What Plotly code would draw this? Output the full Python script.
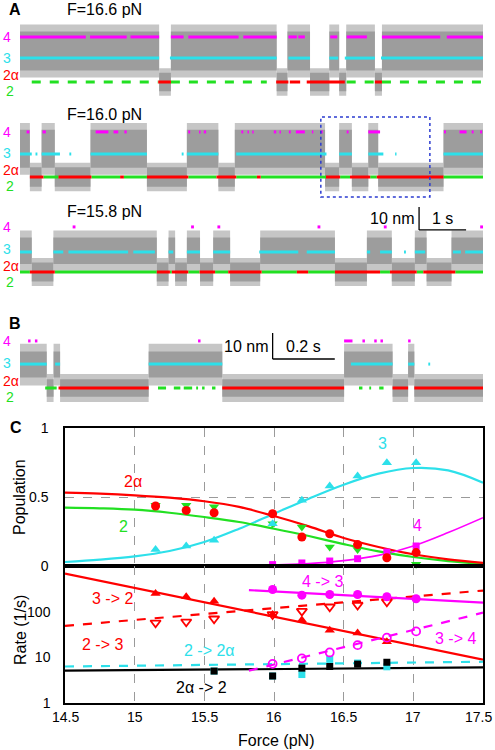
import plotly.graph_objects as go

W, H = 495, 750
FONT = "Arial, Liberation Sans, sans-serif"
MAG, CYA, RED, GRN = "#ff00ff", "#2de0ea", "#ff0000", "#22e022"
GRY_CORE, GRY_EDGE = "#9d9d9d", "#c6c6c6"

# ---------------- Panel A / B : state assignments (time intervals, s) ----------------
T_A = 9.85
T_B = 1.49

a1_high = [(0.00, 2.96), (3.21, 5.46), (5.69, 6.17), (6.58, 6.79), (6.94, 7.55), (7.70, 9.85)]
a1_s4 = [(0.00, 1.40), (1.49, 2.27), (2.35, 2.96), (3.21, 3.48), (3.58, 4.65), (4.75, 5.46),
         (5.71, 5.89), (5.92, 6.06), (6.60, 6.75), (6.95, 7.38), (7.70, 8.94), (9.08, 9.85)]
a1_s3 = [(0.00, 2.96), (3.19, 5.46), (5.71, 6.17), (6.58, 6.77), (6.91, 7.55), (7.68, 9.85)]
a1_s2 = [(0.25, 2.94), (3.21, 5.25), (6.95, 7.55), (7.70, 9.85)]
a1_s2a = [(2.94, 3.21), (5.45, 5.71), (5.74, 5.96), (6.10, 6.91), (7.55, 7.70)]
a1_levels = [0.0, 10.4, 19.6]   # nm: states 2/2a, 3, 4

a2_high = [(0.00, 0.21), (0.46, 0.74), (1.50, 2.70), (3.55, 4.22), (4.57, 6.49), (6.79, 7.06),
           (7.41, 7.62), (9.01, 9.85)]
a2_s4 = [(0.14, 0.20), (0.48, 0.55), (1.61, 1.88), (1.99, 2.09), (2.22, 2.27), (3.58, 3.62),
         (3.81, 3.84), (3.91, 3.96), (4.71, 4.75), (4.84, 4.87), (4.94, 4.97), (5.40, 5.45),
         (5.52, 5.55), (5.72, 5.76), (5.87, 6.06), (6.21, 6.24), (6.40, 6.44), (6.95, 6.99),
         (7.41, 7.66), (9.02, 9.06), (9.35, 9.50), (9.61, 9.65), (9.79, 9.83)]
a2_s3 = [(0.00, 0.25), (0.33, 0.37), (0.46, 0.85), (1.05, 1.09), (1.50, 2.70), (3.44, 3.48),
         (3.55, 4.22), (4.60, 6.52), (6.79, 7.06), (7.41, 7.73), (7.98, 8.01), (9.01, 9.85)]
a2_s2a = [(0.21, 0.50), (0.82, 1.52), (2.13, 2.21), (2.70, 3.58), (4.18, 4.60), (5.04, 5.12),
          (6.51, 6.81), (7.02, 7.45), (7.59, 9.01)]
a2_s2 = [(0.50, 0.82), (1.52, 2.13), (2.21, 2.70), (3.58, 4.18), (4.60, 5.04), (5.12, 6.51),
         (6.81, 7.02), (7.45, 7.59), (9.01, 9.85)]
a2_levels = [0.0, 10.0, 19.6]

a3_high = [(0.00, 0.25), (0.71, 2.91), (3.16, 3.30), (3.55, 3.83), (4.11, 4.47), (5.11, 6.70),
           (7.38, 7.91), (8.40, 8.65), (9.18, 9.85)]
a3_s4 = [(1.12, 1.18), (3.64, 3.70), (4.20, 4.26), (6.33, 6.39), (7.74, 7.80), (9.79, 9.85)]
a3_s3 = [(0.00, 0.25), (0.71, 0.92), (1.03, 2.30), (2.41, 2.87), (3.16, 3.26), (3.55, 3.83),
         (4.11, 4.47), (5.09, 5.92), (6.10, 6.70), (7.38, 7.45), (7.66, 7.91), (8.17, 8.21),
         (8.40, 8.62), (9.21, 9.38), (9.47, 9.85)]
a3_s2a = [(0.21, 0.74), (2.91, 3.19), (3.23, 3.58), (3.82, 4.15), (4.43, 5.14), (5.89, 6.13),
          (6.70, 7.66), (7.87, 8.44), (8.58, 9.26)]
a3_s2 = [(0.00, 0.21), (0.74, 2.91), (3.19, 3.23), (3.58, 3.82), (4.15, 4.43), (5.14, 5.89),
         (6.13, 6.70), (7.66, 7.87), (8.44, 8.58), (9.26, 9.85)]
a3_levels = [0.0, 8.7, 19.6]

b_high = [(0.000, 0.086), (0.108, 0.129), (0.414, 0.651), (1.043, 1.199), (1.249, 1.269)]
b_s4 = [(0.026, 0.034), (0.048, 0.056), (0.573, 0.581), (1.043, 1.070), (1.102, 1.110),
        (1.140, 1.148), (1.160, 1.168), (1.249, 1.257)]
b_s3 = [(0.000, 0.086), (0.113, 0.129), (0.414, 0.651), (1.065, 1.199), (1.249, 1.269), (1.314, 1.320)]
b_s2 = [(0.081, 0.118), (0.444, 0.470), (0.495, 0.516), (0.527, 0.554), (0.567, 0.573),
        (0.586, 0.594), (0.618, 0.629), (1.091, 1.102), (1.124, 1.130), (1.156, 1.170)]
b_s2a = [(0.124, 0.414), (0.651, 1.043), (1.199, 1.249), (1.269, 1.49)]
b_levels = [0.0, 9.2, 18.1]

trace_titles = ["F=16.6 pN", "F=16.0 pN", "F=15.8 pN"]

# ---------------- Panel C : populations ----------------
force_pts = [15.15, 15.37, 15.57, 15.99, 16.20, 16.40, 16.60, 16.81, 17.02]
pop_2a = [0.435, 0.403, 0.386, 0.379, 0.210, 0.234, 0.155, 0.060, 0.097]
pop_2 = [0.44, 0.44, 0.43, 0.307, 0.283, 0.138, 0.120, 0.090, 0.012]
pop_3 = [0.120, 0.145, 0.186, 0.307, 0.476, 0.580, 0.652, 0.749, 0.749]
force_pts4 = [15.99, 16.20, 16.40, 16.60, 16.81, 17.02]
pop_4 = [0.010, 0.022, 0.036, 0.053, 0.101, 0.145]

fit_force = [14.5, 14.75, 15.0, 15.25, 15.5, 15.75, 16.0, 16.25, 16.5, 16.75, 17.0, 17.25, 17.5]
fit_2a = [0.531, 0.524, 0.512, 0.495, 0.469, 0.428, 0.362, 0.287, 0.203, 0.138, 0.085, 0.048, 0.022]
fit_2 = [0.423, 0.418, 0.408, 0.386, 0.355, 0.319, 0.270, 0.217, 0.159, 0.106, 0.065, 0.036, 0.017]
fit_3 = [0.029, 0.046, 0.070, 0.109, 0.174, 0.270, 0.379, 0.488, 0.589, 0.669, 0.710, 0.693, 0.604]
fit4_force = [15.82, 16.0, 16.25, 16.5, 16.75, 17.0, 17.25, 17.5]
fit_4 = [0.0, 0.007, 0.017, 0.039, 0.077, 0.145, 0.242, 0.350]

# ---------------- Panel C : rates (1/s) ----------------
k32 = [251, 213, 170, 87, 66, 39, 34, 22]          # 3 -> 2 at force_pts[:8]
k23 = [57, 60, 70, 87, 103, 128, 140, 165]         # 2 -> 3 at force_pts[:8]
k43 = [306, 230, 238, 238, 212, 192]               # 4 -> 3 at force_pts4
k34 = [7.2, 9.5, 12.8, 18.5, 27, 37]               # 3 -> 4 at force_pts4
force_sq = [15.57, 15.99, 16.20, 16.40, 16.60, 16.81]
k22a = [5.0, 3.9, 4.2, 9.0, 7.5, 6.2]              # 2 -> 2a
k2a2 = [5.0, 3.9, 5.8, 6.3, 7.1, 7.8]              # 2a -> 2

line_force = [14.5, 17.5]
fit_k32 = [680, 8.9]
fit_k23 = [49, 290]
fit_k22a = [6.3, 8.0]
fit_k2a2 = [5.1, 6.0]
line_force4 = [15.82, 17.5]
fit_k43 = [296, 157]
fit_k34 = [5.1, 95]

force_ticks = [14.5, 15, 15.5, 16, 16.5, 17, 17.5]
force_tick_text = ["14.5", "15", "15.5", "16", "16.5", "17", "17.5"]

# ---------------- layout helpers (pixel geometry) ----------------
def ydom(top, bot):
    return [1 - bot / H, 1 - top / H]

XT = [20 / W, 483 / W]
XC = [65 / W, 483 / W]

fig = go.Figure()

def segs(intervals, level):
    xs, ys = [], []
    for a, b in intervals:
        xs += [a, b, None]
        ys += [level, level, None]
    return xs, ys

def complement(intervals, T):
    out, t = [], 0.0
    for a, b in sorted(intervals):
        if a > t:
            out.append((t, a))
        t = max(t, b)
    if t < T:
        out.append((t, T))
    return out

def band(intervals, lo, hi):
    xs, ys = [], []
    for a, b in intervals:
        xs += [a, b, b, a, a, None]
        ys += [lo, lo, hi, hi, lo, None]
    return xs, ys

panels = [
    dict(ax="1", T=T_A, high=a1_high, s4=a1_s4, s3=a1_s3, s2=a1_s2, s2a=a1_s2a, lev=a1_levels,
         hb=(5.0, 22.0), lb=4.0, g2dash="dash", px=(20, 100, 82), s=2.3, lsh=(0, 0, 7, -9)),
    dict(ax="2", T=T_A, high=a2_high, s4=a2_s4, s3=a2_s3, s2=a2_s2, s2a=a2_s2a, lev=a2_levels,
         hb=(4.0, 20.5), lb=4.2, g2dash="solid", px=(112, 200, 177), s=2.3, lsh=(0, 1, 7, -9)),
    dict(ax="3", T=T_A, high=a3_high, s4=a3_s4, s3=a3_s3, s2=a3_s2, s2a=a3_s2a, lev=a3_levels,
         hb=(3.5, 15.0), lb=4.1, g2dash="solid", px=(205, 290, 272), s=2.3, lsh=(0, 3, 6, -10)),
    dict(ax="4", T=T_B, high=b_high, s4=b_s4, s3=b_s3, s2=b_s2, s2a=b_s2a, lev=b_levels,
         hb=(4.0, 14.0), lb=3.4, g2dash="solid", px=(320, 405, 388), s=2.6, lsh=(0, 1, 7, -9)),
]

annotations = []
shapes = []
layout_axes = {}

for p in panels:
    ax = p["ax"]
    xr, yr = "x" + ax, "y" + ax
    top, bot, l2 = p["px"]
    y0 = -(bot - l2) / p["s"]
    y1 = y0 + (bot - top) / p["s"]
    layout_axes["xaxis" + ax] = dict(domain=XT, range=[0, p["T"]], visible=False,
                                     anchor=yr, fixedrange=True, automargin=False)
    layout_axes["yaxis" + ax] = dict(domain=ydom(top, bot), range=[y0, y1], visible=False,
                                     anchor=xr, fixedrange=True, automargin=False)
    low = complement(p["high"], p["T"])
    hb0, hb1 = p["hb"]
    lb = p["lb"]
    layers = [
        (band(p["high"], hb0 - 3.0, hb1 + 3.0), GRY_EDGE),
        (band(low, -lb - 2.0, lb + 2.0), GRY_EDGE),
        (band(p["high"], hb0, hb1), GRY_CORE),
        (band(low, -lb, lb), GRY_CORE),
    ]
    for (xs, ys), col in layers:
        fig.add_trace(go.Scatter(x=xs, y=ys, xaxis=xr, yaxis=yr, mode="lines", fill="toself",
                                 fillcolor=col, line=dict(width=0, color=col),
                                 hoverinfo="skip", showlegend=False))
    L2, L3, L4 = p["lev"]
    for iv, lev, col, dash in [(p["s3"], L3, CYA, "solid"), (p["s2"], L2, GRN, p["g2dash"]),
                               (p["s2a"], L2, RED, "solid"), (p["s4"], L4, MAG, "solid")]:
        xs, ys = segs(iv, lev)
        fig.add_trace(go.Scatter(x=xs, y=ys, xaxis=xr, yaxis=yr, mode="lines",
                                 line=dict(color=col, width=3, dash=dash),
                                 hoverinfo="skip", showlegend=False))
    # state labels
    sh4, sh3, sh2a, sh2 = p["lsh"]
    for txt, lev, col, xs_px, ysh in [("4", L4, MAG, 2, sh4), ("3", L3, CYA, 2, sh3),
                                      ("2α", L2, RED, 2, sh2a), ("2", L2, GRN, 5, sh2)]:
        annotations.append(dict(text=txt, x=xs_px / W, xref="paper", y=lev, yref=yr,
                                xanchor="left", yanchor="middle", yshift=ysh, showarrow=False,
                                borderpad=0, font=dict(size=14, color=col)))

# titles of A traces
for txt, ypx in zip(trace_titles, [9, 115, 212]):
    annotations.append(dict(text=txt, x=65 / W, y=1 - ypx / H, xref="paper", yref="paper",
                            xanchor="left", yanchor="middle", showarrow=False,
                            font=dict(size=16, color="black")))
for txt, xpx, ypx in [("A", 7, 9), ("B", 7, 323), ("C", 8, 427)]:
    annotations.append(dict(text="<b>%s</b>" % txt, x=xpx / W, y=1 - ypx / H, xref="paper",
                            yref="paper", xanchor="left", yanchor="middle", showarrow=False,
                            font=dict(size=16, color="black")))

# scale bars
bar_A = dict(nm=10, s=1.0, t0=8.49, y0=18.3)
bar_B = dict(nm=10, s=0.2, t0=0.813, y0=11.15)
for bar, xr, yr, lab in [(bar_A, "x3", "y3", "1 s"), (bar_B, "x4", "y4", "0.2 s")]:
    shapes.append(dict(type="line", xref=xr, yref=yr, x0=bar["t0"], x1=bar["t0"], y0=bar["y0"],
                       y1=bar["y0"] + bar["nm"], line=dict(color="black", width=1.3)))
    shapes.append(dict(type="line", xref=xr, yref=yr, x0=bar["t0"], x1=bar["t0"] + bar["s"],
                       y0=bar["y0"], y1=bar["y0"], line=dict(color="black", width=1.3)))
    annotations.append(dict(text="10 nm", x=bar["t0"], y=bar["y0"] + bar["nm"] / 2, xref=xr,
                            yref=yr, xanchor="right", yanchor="middle", xshift=-3,
                            showarrow=False, font=dict(size=16, color="black")))
    annotations.append(dict(text=lab, x=bar["t0"] + bar["s"] / 2, y=bar["y0"] + bar["nm"] / 2,
                            xref=xr, yref=yr, xanchor="center", yanchor="middle",
                            showarrow=False, font=dict(size=16, color="black")))

# blue dotted box on F=16.0 trace
shapes.append(dict(type="rect", xref="x2", yref="y2", x0=6.40, x1=8.72, y0=-8.7, y1=26.1,
                   line=dict(color="#2b3bd0", width=1.5, dash="dot")))

# ---------------- Panel C ----------------
def sc(x, y, xa, ya, mode, **kw):
    fig.add_trace(go.Scatter(x=x, y=y, xaxis=xa, yaxis=ya, mode=mode, hoverinfo="skip",
                             showlegend=False, cliponaxis=False, **kw))

# population fits
sc(fit_force, fit_3, "x5", "y5", "lines", line=dict(color=CYA, width=2.2, shape="spline"))
sc(fit_force, fit_2, "x5", "y5", "lines", line=dict(color=GRN, width=2.2, shape="spline"))
sc(fit_force, fit_2a, "x5", "y5", "lines", line=dict(color=RED, width=2.2, shape="spline"))
sc(fit4_force, fit_4, "x5", "y5", "lines", line=dict(color=MAG, width=1.6, shape="spline"))
# population points
sc(force_pts, pop_2, "x5", "y5", "markers", marker=dict(symbol="triangle-down", size=9, color=GRN))
sc(force_pts, pop_3, "x5", "y5", "markers", marker=dict(symbol="triangle-up", size=9, color=CYA))
sc(force_pts4, pop_4, "x5", "y5", "markers", marker=dict(symbol="square", size=7, color=MAG))
sc(force_pts, pop_2a, "x5", "y5", "markers", marker=dict(symbol="circle", size=9, color=RED))

# rate fits
sc(line_force, fit_k32, "x6", "y6", "lines", line=dict(color=RED, width=2.2))
sc(line_force, fit_k23, "x6", "y6", "lines", line=dict(color=RED, width=2.2, dash="dash"))
sc(line_force, fit_k22a, "x6", "y6", "lines", line=dict(color=CYA, width=2.2, dash="dash"))
sc(line_force, fit_k2a2, "x6", "y6", "lines", line=dict(color="black", width=2.2))
sc(line_force4, fit_k43, "x6", "y6", "lines", line=dict(color=MAG, width=2.2))
sc(line_force4, fit_k34, "x6", "y6", "lines", line=dict(color=MAG, width=2.2, dash="dash"))
# rate points
sc(force_sq, k22a, "x6", "y6", "markers", marker=dict(symbol="square", size=7, color=CYA))
sc(force_sq, k2a2, "x6", "y6", "markers", marker=dict(symbol="square", size=7, color="black"))
sc(force_pts[:8], k32, "x6", "y6", "markers", marker=dict(symbol="triangle-up", size=9, color=RED))
sc(force_pts[:8], k23, "x6", "y6", "markers",
   marker=dict(symbol="triangle-down-open", size=9, color=RED, line=dict(width=1.8)))
sc(force_pts4, k43, "x6", "y6", "markers", marker=dict(symbol="circle", size=9, color=MAG))
sc(force_pts4, k34, "x6", "y6", "markers",
   marker=dict(symbol="circle-open", size=8, color=MAG, line=dict(width=1.8)))

xgrid = dict(showgrid=True, gridcolor="#9a9a9a", griddash="dash", gridwidth=1,
             tickvals=[15, 15.5, 16, 16.5, 17], range=[14.5, 17.5],
             showline=True, linecolor="black", linewidth=1.5, mirror=True, ticks="",
             zeroline=False, fixedrange=True, domain=XC, automargin=False)
layout_axes["xaxis5"] = dict(xgrid, anchor="y5", showticklabels=False)
# tick labels of the bottom axis are drawn as annotations so the last one stays inside the page
layout_axes["xaxis6"] = dict(xgrid, anchor="y6", showticklabels=False)
for v, t in zip(force_ticks, force_tick_text):
    last = (v == force_ticks[-1])
    annotations.append(dict(text=t, x=v, xref="x6", y=1 - 717 / H, yref="paper",
                            xanchor="right" if last else "center", yanchor="middle",
                            xshift=11 if last else 0, showarrow=False,
                            font=dict(size=14, color="black")))
layout_axes["yaxis5"] = dict(domain=ydom(428, 566), range=[0, 1], anchor="x5",
                             tickvals=[0, 0.5, 1], ticktext=["0", "0.5", "1"],
                             showgrid=True, gridcolor="#9a9a9a", griddash="dash",
                             showline=True, linecolor="black", linewidth=1.5, mirror=True,
                             ticks="", zeroline=False, fixedrange=True, automargin=False,
                             tickfont=dict(size=14, color="black"), ticklabelstandoff=12,
                             ticklabeloverflow="allow")
layout_axes["yaxis6"] = dict(domain=ydom(566, 703), type="log", range=[0, 3], anchor="x6",
                             tickvals=[1, 10, 100], ticktext=["1", "10", "100"],
                             showgrid=False, showline=True, linecolor="black", linewidth=1.5,
                             mirror=True, ticks="", zeroline=False, fixedrange=True,
                             automargin=False, ticklabeloverflow="allow",
                             tickfont=dict(size=14, color="black"), ticklabelstandoff=10)

# curve labels
for txt, x, y, col in [("2α", 14.99, 0.609, RED), ("3", 16.78, 0.891, CYA),
                       ("2", 14.92, 0.283, GRN), ("4", 17.03, 0.29, MAG)]:
    annotations.append(dict(text=txt, x=x, y=y, xref="x5", yref="y5", showarrow=False,
                            xanchor="center", yanchor="middle",
                            font=dict(size=16, color=col)))
for txt, x, y, col in [("4 -> 3", 16.35, 2.65, MAG), ("3 -> 2", 14.84, 2.28, RED),
                       ("2 -> 3", 14.77, 1.29, RED), ("2 -> 2α", 15.54, 1.14, CYA),
                       ("3 -> 4", 17.30, 1.42, MAG), ("2α -> 2", 15.48, 0.35, "black")]:
    annotations.append(dict(text=txt, x=x, y=y, xref="x6", yref="y6", showarrow=False,
                            xanchor="center", yanchor="middle",
                            font=dict(size=16, color=col)))

# axis titles
for txt, xpx, ypx, ang in [("Population", 20, 497, -90), ("Rate (1/s)", 20, 630, -90),
                           ("Force (pN)", 276, 740, 0)]:
    annotations.append(dict(text=txt, x=xpx / W, y=1 - ypx / H, xref="paper", yref="paper",
                            xanchor="center", yanchor="middle", textangle=ang,
                            showarrow=False, font=dict(size=16, color="black")))

fig.update_layout(template="none", width=W, height=H,
                  margin=dict(l=0, r=0, t=0, b=0, pad=0, autoexpand=False),
                  paper_bgcolor="white", plot_bgcolor="white",
                  font=dict(family=FONT, size=14, color="black"),
                  annotations=annotations, shapes=shapes, showlegend=False,
                  **layout_axes)

fig.write_html("out.html", config={"displayModeBar": False},
               post_script="document.body.style.margin='0';document.body.style.overflow='hidden';")
